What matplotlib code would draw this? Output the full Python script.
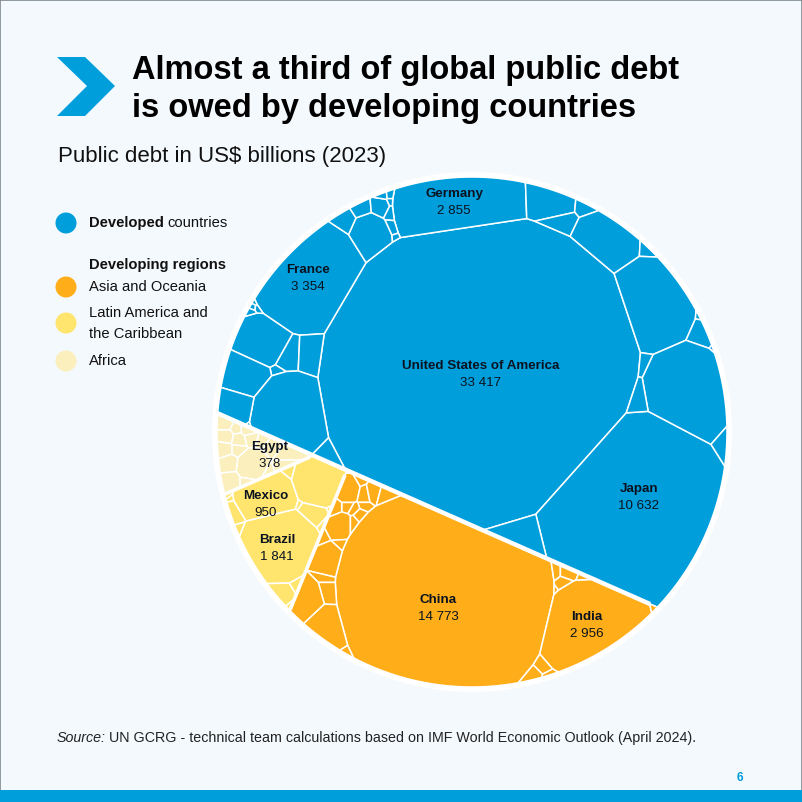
import numpy as np
import matplotlib
matplotlib.use('Agg')
import matplotlib.pyplot as plt
from matplotlib.patches import Circle, Polygon, Rectangle

plt.rcParams['font.family'] = ['Liberation Sans', 'DejaVu Sans']

BG = '#F4F9FD'
BLUE = '#009EDB'
ORANGE = '#FFAE19'
YELLOW = '#FFE56E'
PALE = '#FBEFBD'
INK = '#0B1320'

# Debt in US$ billions. Only the labelled ones are printed in the chart,
# the rest are read off from the size of their cells.
developed_values = [33417, 10632, 2855, 3354, 620, 165, 110, 130, 25, 25, 15, 45, 50, 20,
                    950, 260, 400, 45, 680, 2100, 420, 10, 185, 25, 15, 20, 10, 5,
                    600, 100, 235, 1150, 65, 2360, 8, 185, 3, 2780, 90, 200, 140, 565, 15]
asia_values = [14773, 2956, 55, 80, 25, 60, 5, 85, 85, 20, 5, 10, 235, 50, 80, 115, 110, 55,
               50, 70, 45, 50, 280, 45, 60, 45, 400, 85, 150, 470, 520, 30]
latam_values = [1841, 950, 880, 50, 190, 15, 30, 10, 15, 15, 100, 30, 165, 50, 15]
africa_values = [378, 90, 90, 130, 150, 90, 50, 70, 60, 70, 50, 70, 120, 180, 90, 40, 40]

# Seed of each cell on the page (same order as the values), pixels
developed_seeds = [(478, 378), (626, 510), (452, 205), (303, 275), (367, 235), (338, 222),
                   (358, 209), (380, 207), (382, 194), (391, 193), (391, 202), (392, 213),
                   (391, 224), (394, 233), (260, 338), (285, 352), (308, 353), (275, 368),
                   (243, 375), (288, 412), (235, 402), (250, 424), (332, 455), (252, 310),
                   (255, 302), (262, 303), (258, 296), (230, 352), (536, 202), (570, 205),
                   (542, 229), (586, 250), (640, 253), (637, 325), (702, 330), (698, 352),
                   (718, 368), (676, 415), (627, 392), (620, 425), (718, 452), (525, 535),
                   (656, 603)]
asia_seeds = [(438, 590), (585, 625), (551, 573), (567, 573), (583, 579), (562, 587), (554, 593),
              (548, 657), (535, 670), (557, 674), (652, 610), (350, 475), (350, 495), (367, 485),
              (373, 500), (383, 498), (402, 503), (373, 512), (350, 513), (336, 513), (357, 517),
              (367, 527), (344, 533), (360, 533), (325, 543), (345, 550), (333, 563), (328, 584),
              (328, 597), (310, 602), (327, 620), (338, 637)]
latam_seeds = [(277, 550), (265, 500), (315, 483), (285, 475), (307, 517), (297, 510), (318, 527),
               (327, 508), (228, 500), (232, 505), (235, 518), (240, 535), (278, 593), (295, 583),
               (288, 605)]
africa_seeds = [(250, 468), (222, 437), (220, 450), (225, 465), (227, 485), (222, 423), (233, 428),
                (235, 440), (234, 450), (247, 437), (245, 428), (258, 440), (273, 450), (287, 460),
                (287, 472), (267, 478), (247, 485)]

labels = [('United States of America', '33 417', 481, 366),
          ('Germany', '2 855', 454, 194),
          ('France', '3 354', 308, 270),
          ('Japan', '10 632', 639, 489),
          ('China', '14 773', 438, 600),
          ('India', '2 956', 587, 617),
          ('Egypt', '378', 270, 447),
          ('Mexico', '950', 266, 496),
          ('Brazil', '1 841', 277, 540)]

CX, CY, R = 472, 432, 255
DIVIDER = ((217, 413), (650, 604))
AFRICA_LATAM = ((223, 495), (310, 457))
LATAM_ASIA = ((290, 610), (345, 475))


def clip(poly, a, b):
    # keep the part of a convex polygon where a.x <= b
    if len(poly) == 0:
        return poly
    d = poly @ a - b
    inside = d <= 0
    if inside.all():
        return poly
    if not inside.any():
        return poly[:0]
    nxt = np.roll(np.arange(len(poly)), -1)
    cross = np.nonzero(inside != inside[nxt])[0]
    t = d[cross] / (d[cross] - d[nxt[cross]])
    pts = poly[cross] + (poly[nxt[cross]] - poly[cross]) * t[:, None]
    out = np.insert(poly, cross + 1, pts, axis=0)
    keep = np.insert(inside, cross + 1, True)
    return out[keep]


def side(poly, line, sign):
    (x0, y0), (x1, y1) = line
    n = np.array([y1 - y0, x0 - x1], float) * sign
    return clip(poly, n, n @ np.array([x0, y0], float))


def area(poly):
    if len(poly) < 3:
        return 0.0
    x, y = poly[:, 0], poly[:, 1]
    return 0.5 * abs(np.dot(x, np.roll(y, -1)) - np.dot(y, np.roll(x, -1)))


def power_cells(region, seeds, w):
    cells = []
    sq = (seeds ** 2).sum(axis=1)
    for i in range(len(seeds)):
        poly = region
        for j in np.argsort(((seeds - seeds[i]) ** 2).sum(axis=1)):
            if j == i:
                continue
            poly = clip(poly, 2 * (seeds[j] - seeds[i]), sq[j] - sq[i] + w[i] - w[j])
        cells.append(poly)
    return cells


def fit_cells(region, values, seeds, n_iter=160):
    # power diagram: move the weights until the cell areas follow the values
    values = np.array(values, float)
    seeds = np.array(seeds, float)
    target = values / values.sum() * area(region)
    w = target / np.pi
    for _ in range(n_iter):
        cells = power_cells(region, seeds, w)
        got = np.array([area(c) for c in cells])
        w = w + (target - got) / np.pi
        w = w - w.mean()
    return power_cells(region, seeds, w)


theta = np.linspace(0, 2 * np.pi, 240, endpoint=False)
disc = np.column_stack([CX + R * np.cos(theta), CY + R * np.sin(theta)])

top = side(disc, DIVIDER, -1)
bottom = side(disc, DIVIDER, 1)
africa = side(bottom, AFRICA_LATAM, -1)
rest = side(bottom, AFRICA_LATAM, 1)
latam = side(rest, LATAM_ASIA, -1)
asia = side(rest, LATAM_ASIA, 1)

fig = plt.figure(figsize=(8.02, 8.02), dpi=100, facecolor=BG)
ax = fig.add_axes([0, 0, 1, 1])
ax.set_xlim(0, 802)
ax.set_ylim(802, 0)
ax.axis('off')

ax.add_patch(Rectangle((0, 0), 802, 802, fc=BG, ec='#7D8A90', lw=1.2, zorder=0))
ax.add_patch(Rectangle((0, 790), 802, 12, fc=BLUE, ec='none', zorder=1))
ax.add_patch(Polygon([(57, 57), (85, 57), (115, 86), (85, 116), (57, 116), (87, 86)],
                     fc=BLUE, ec='none'))

ax.add_patch(Circle((CX, CY), R + 5, fc='white', ec='none', zorder=1))
for region, vals, seeds, col in [(top, developed_values, developed_seeds, BLUE),
                                 (asia, asia_values, asia_seeds, ORANGE),
                                 (latam, latam_values, latam_seeds, YELLOW),
                                 (africa, africa_values, africa_seeds, PALE)]:
    for poly in fit_cells(region, vals, seeds):
        if len(poly) > 2:
            ax.add_patch(Polygon(poly, fc=col, ec='white', lw=1.1, joinstyle='round', zorder=2))

for line, lw in [(DIVIDER, 3.2), (AFRICA_LATAM, 2.6), (LATAM_ASIA, 2.6)]:
    ax.plot(*zip(*line), color='white', lw=lw, solid_capstyle='butt', zorder=3)

for name, val, x, y in labels:
    ax.text(x, y, name, ha='center', va='center', fontsize=9.6, fontweight='bold', color=INK, zorder=4)
    ax.text(x, y + 17, val, ha='center', va='center', fontsize=9.6, color=INK, zorder=4)

ax.text(132, 79.5, 'Almost a third of global public debt', fontsize=23.5, fontweight='bold',
        color='black', va='baseline')
ax.text(132, 117, 'is owed by developing countries', fontsize=23.5, fontweight='bold',
        color='black', va='baseline')
ax.text(58, 162, 'Public debt in US$ billions (2023)', fontsize=16, color='#111111', va='baseline')


def run_text(x, y, parts, gap, **kw):
    # several styles on one line, each piece starts where the last one ended
    r = fig.canvas.get_renderer()
    for s, style in parts:
        t = ax.text(x, y, s, va='center', **kw, **style)
        x = t.get_window_extent(r).x1 + gap


LEGEND_SIZE = 10.6
for (cx, cy), col in [((66, 223), BLUE), ((66, 287), ORANGE), ((66, 323), YELLOW), ((66, 361), PALE)]:
    ax.add_patch(Circle((cx, cy), 10.5, fc=col, ec='none'))
run_text(89, 223, [('Developed', {'fontweight': 'bold'}), ('countries', {})], 3.5,
         fontsize=LEGEND_SIZE, color='#111111')
ax.text(89, 265, 'Developing regions', fontsize=LEGEND_SIZE, fontweight='bold', color='#111111', va='center')
ax.text(89, 287, 'Asia and Oceania', fontsize=LEGEND_SIZE, color='#111111', va='center')
ax.text(89, 313, 'Latin America and', fontsize=LEGEND_SIZE, color='#111111', va='center')
ax.text(89, 334, 'the Caribbean', fontsize=LEGEND_SIZE, color='#111111', va='center')
ax.text(89, 361, 'Africa', fontsize=LEGEND_SIZE, color='#111111', va='center')

run_text(57, 738, [('Source:', {'style': 'italic'}),
                   ('UN GCRG - technical team calculations based on IMF World Economic Outlook (April 2024).', {})],
         3.0, fontsize=10.3, color='#222222')
ax.text(740, 778, '6', fontsize=8.6, fontweight='bold', color=BLUE, ha='center', va='center')

fig.savefig('out.png', dpi=100, facecolor=BG)
